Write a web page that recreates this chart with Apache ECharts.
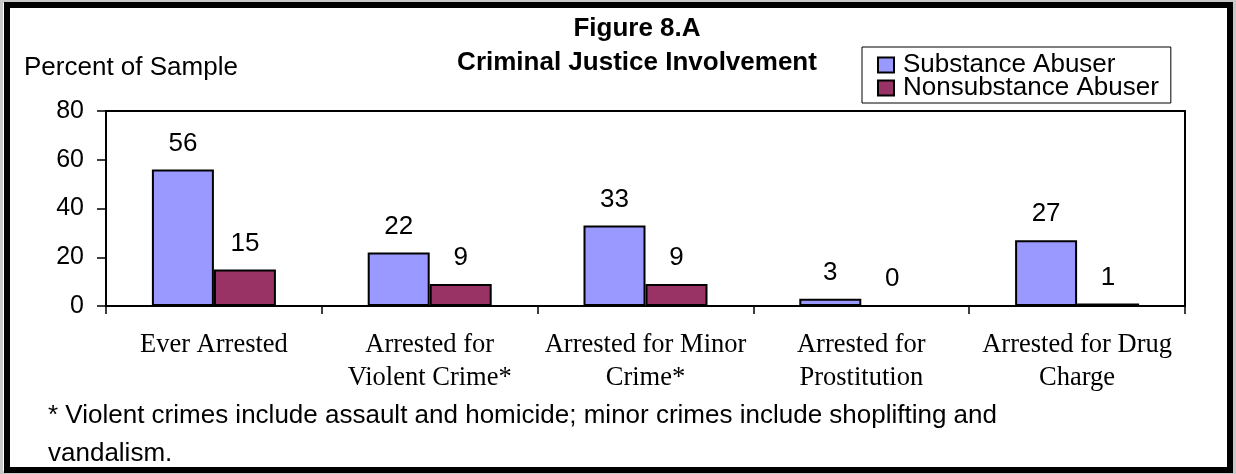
<!DOCTYPE html>
<html>
<head>
<meta charset="utf-8">
<script src="https://cdn.jsdelivr.net/npm/echarts@6/dist/echarts.min.js"></script>
<style>
  html, body { margin: 0; padding: 0; background: #fff; }
  #chart { width: 1236px; height: 474px; }
</style>
</head>
<body>
<div id="chart"></div>
<script>
// figure 8.A data
var categories = ['Ever Arrested', 'Arrested for\nViolent Crime*', 'Arrested for Minor\nCrime*', 'Arrested for\nProstitution', 'Arrested for Drug\nCharge'];
var substanceAbuser = [56, 22, 33, 3, 27];
var nonsubstanceAbuser = [15, 9, 9, 0, 1];
var yTicks = [0, 20, 40, 60, 80];

var sans = "'Liberation Sans', Arial, sans-serif";
var serif = "'Liberation Serif', 'Times New Roman', serif";

var chart = echarts.init(document.getElementById('chart'));

var valueLabel = {
  show: true,
  position: 'top',
  distance: 13,
  color: '#000',
  fontFamily: sans,
  fontSize: 26
};

chart.setOption({
  backgroundColor: '#fff',
  animation: false,
  title: {
    text: 'Figure 8.A\nCriminal Justice Involvement',
    left: 637,
    top: 12,
    padding: 0,
    textAlign: 'center',
    textStyle: {
      fontFamily: sans,
      fontSize: 26,
      fontWeight: 'bold',
      lineHeight: 34,
      color: '#000'
    }
  },
  legend: {
    orient: 'vertical',
    left: 862,
    top: 47,
    padding: [5, 12, 2, 15],
    itemGap: -3,
    itemWidth: 16,
    itemHeight: 15,
    borderColor: '#000',
    borderWidth: 1,
    icon: 'rect',
    textStyle: {
      fontFamily: sans,
      fontSize: 26,
      color: '#000',
      padding: [0, 0, 0, 4]
    },
    data: ['Substance Abuser', 'Nonsubstance Abuser']
  },
  grid: {
    left: 106,
    top: 111,
    right: 51,
    bottom: 168,
    show: true,
    borderColor: '#000',
    borderWidth: 2,
    backgroundColor: 'transparent'
  },
  xAxis: {
    type: 'category',
    data: categories,
    axisLine: { lineStyle: { color: '#000', width: 2 } },
    axisTick: { show: true, length: 8, lineStyle: { color: '#000', width: 1.5 } },
    axisLabel: {
      interval: 0,
      margin: 23,
      color: '#000',
      fontFamily: serif,
      fontSize: 26.5,
      lineHeight: 33
    }
  },
  yAxis: {
    type: 'value',
    min: yTicks[0],
    max: yTicks[yTicks.length - 1],
    interval: 20,
    axisLine: { show: true, lineStyle: { color: '#000', width: 2 } },
    axisTick: { show: true, length: 9, lineStyle: { color: '#000', width: 1.5 } },
    splitLine: { show: false },
    axisLabel: {
      margin: 22,
      color: '#000',
      fontFamily: sans,
      fontSize: 25
    }
  },
  series: [
    {
      name: 'Substance Abuser',
      type: 'bar',
      barWidth: 62,
      barGap: 0,
      itemStyle: { color: '#9999ff', borderColor: '#000', borderWidth: 2 },
      label: valueLabel,
      data: substanceAbuser
    },
    {
      name: 'Nonsubstance Abuser',
      type: 'bar',
      barWidth: 62,
      barGap: 0,
      itemStyle: { color: '#993366', borderColor: '#000', borderWidth: 2 },
      label: valueLabel,
      data: nonsubstanceAbuser
    }
  ],
  graphic: [
    {
      type: 'rect',
      shape: { x: 0, y: 0, width: 1236, height: 474 },
      style: { fill: 'none', stroke: '#c8c8c8', lineWidth: 6 },
      silent: true
    },
    {
      type: 'rect',
      shape: { x: 7, y: 5, width: 1223, height: 465 },
      style: { fill: 'none', stroke: '#000', lineWidth: 6 },
      silent: true
    },
    {
      type: 'text',
      x: 24,
      y: 68,
      style: {
        text: 'Percent of Sample',
        fill: '#000',
        font: '26px ' + sans,
        verticalAlign: 'middle'
      }
    },
    {
      type: 'text',
      x: 48,
      y: 397,
      style: {
        text: '* Violent crimes include assault and homicide; minor crimes include shoplifting and\nvandalism.',
        fill: '#000',
        font: '26px ' + sans,
        lineHeight: 38,
        verticalAlign: 'top'
      }
    }
  ]
});
</script>
</body>
</html>
